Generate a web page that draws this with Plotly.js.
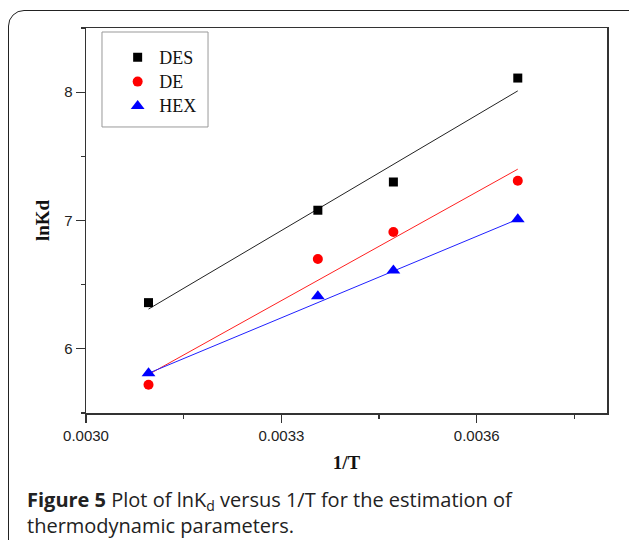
<!DOCTYPE html>
<html>
<head>
<meta charset="utf-8">
<script src="https://cdn.plot.ly/plotly-3.0.1.min.js"></script>
<style>
html,body{margin:0;padding:0;background:#fff;overflow:hidden;}
#wrap{position:relative;width:629px;height:540px;}
#frame{position:absolute;left:8px;top:10px;width:640px;height:600px;border:1.6px solid #222;border-radius:16px;box-sizing:border-box;}
#chart{position:absolute;left:0;top:0;width:629px;height:540px;}
</style>
</head>
<body>
<div id="wrap"><div id="frame"></div><div id="chart"></div></div>
<script>
// 1/T values (K^-1)
const invT = [0.003096, 0.003356, 0.003472, 0.003663];
// lnKd values
const desY = [6.36, 7.08, 7.30, 8.11];
const deY  = [5.72, 6.70, 6.91, 7.31];
const hexY = [5.81, 6.41, 6.61, 7.01];
// linear fit lines (endpoints)
const fitX    = [0.003096, 0.003663];
const desFit  = [6.31, 8.01];
const deFit   = [5.80, 7.40];
const hexFit  = [5.81, 7.01];
const seriesNames = ['DES', 'DE', 'HEX'];
const xTickVals = [0.0030, 0.0033, 0.0036];
const xTickText = ['0.0030', '0.0033', '0.0036'];
const yTickVals = [6, 7, 8];

const serif = 'Liberation Serif, Times New Roman, serif';
const sans = 'Liberation Sans, Arial, sans-serif';
const capFont = 'Open Sans, Noto Sans, sans-serif';
const lg = n => '<span style="font-size:18px">' + n + '</span>';

const traces = [
  {x: fitX, y: desFit, mode: 'lines', line: {color: '#222', width: 1}, showlegend: false, hoverinfo: 'skip'},
  {x: fitX, y: deFit,  mode: 'lines', line: {color: '#ff2020', width: 1}, showlegend: false, hoverinfo: 'skip'},
  {x: fitX, y: hexFit, mode: 'lines', line: {color: '#2020ff', width: 1}, showlegend: false, hoverinfo: 'skip'},
  {x: invT, y: desY, mode: 'markers', name: lg(seriesNames[0]), marker: {symbol: 'square', size: 9, color: '#000'}},
  {x: invT, y: deY,  mode: 'markers', name: lg(seriesNames[1]), marker: {symbol: 'circle', size: 10, color: '#ff0000'}},
  {x: invT, y: hexY, mode: 'markers', name: lg(seriesNames[2]), marker: {symbol: 'triangle-up', size: 12, color: '#0000ff'}}
];

const layout = {
  width: 629, height: 540,
  margin: {l: 86, r: 22, t: 28, b: 127},
  paper_bgcolor: 'rgba(0,0,0,0)',
  plot_bgcolor: 'rgba(0,0,0,0)',
  showlegend: true,
  legend: {
    x: 0.031, y: 0.969, xanchor: 'left', yanchor: 'top',
    bgcolor: 'rgba(0,0,0,0)', borderwidth: 0,
    font: {family: serif, size: 16.5, color: '#111'},
    indentation: 14, itemwidth: 33
  },
  shapes: [
    {type: 'rect', xref: 'paper', yref: 'paper', x0: 0.0307, x1: 0.2342, y0: 0.7429, y1: 0.9896,
     line: {color: '#999', width: 1}, fillcolor: '#fff', layer: 'below'}
  ],
  xaxis: {
    range: [0.0030, 0.0038],
    tickvals: xTickVals, ticktext: xTickText,
    ticks: 'outside', ticklen: 8, tickwidth: 1.3, tickcolor: '#333',
    minor: {dtick: 0.00015, tick0: 0.0030, ticks: 'outside', ticklen: 4, tickwidth: 1.3, tickcolor: '#333', showgrid: false},
    showline: true, linecolor: '#333', linewidth: 1.5, mirror: true,
    showgrid: false, zeroline: false,
    tickfont: {family: sans, size: 15, color: '#222'},
    title: {text: '<b>1/T</b>', font: {family: serif, size: 19, color: '#111'}, standoff: 13},
    automargin: false
  },
  yaxis: {
    range: [5.5, 8.5],
    tickvals: yTickVals,
    ticks: 'outside', ticklen: 9, tickwidth: 1.3, tickcolor: '#333',
    minor: {dtick: 0.5, tick0: 5.5, ticks: 'outside', ticklen: 4, tickwidth: 1.3, tickcolor: '#333', showgrid: false},
    showline: true, linecolor: '#333', linewidth: 1.5, mirror: true,
    showgrid: false, zeroline: false,
    tickfont: {family: sans, size: 15, color: '#222'},
    title: {text: '<b>lnKd</b>', font: {family: serif, size: 19, color: '#111'}, standoff: 9},
    automargin: false
  },
  annotations: [
    {xref: 'paper', yref: 'paper', x: -0.117, y: -0.258, xanchor: 'left', yanchor: 'middle', showarrow: false, align: 'left',
     text: '<b>Figure 5</b> Plot of lnK<sub>d</sub> versus 1/T for the estimation of<br>thermodynamic parameters.',
     font: {family: capFont, size: 20, color: '#222'}}
  ]
};

Plotly.newPlot('chart', traces, layout, {displayModeBar: false, staticPlot: true});
</script>
</body>
</html>
